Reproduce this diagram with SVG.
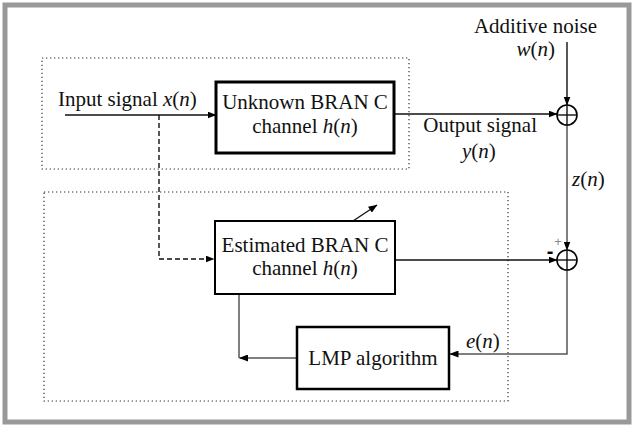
<svg xmlns="http://www.w3.org/2000/svg" width="635" height="428" viewBox="0 0 635 428">
<defs>
<marker id="ah" markerWidth="9" markerHeight="7" refX="8.5" refY="3.5" orient="auto" markerUnits="userSpaceOnUse">
<path d="M0,0 L9,3.5 L0,7 Z" fill="#000"/>
</marker>
</defs>
<style>
text{font-family:"Liberation Serif","Times New Roman",serif;font-size:21px;fill:#111}
.it{font-style:italic}
.box{fill:#fff;stroke:#000}
.dot{fill:none;stroke:#333;stroke-width:1.2;stroke-dasharray:1.3 2.7}
.ln{fill:none;stroke:#111;stroke-width:1.4}
.gl{fill:none;stroke:#555;stroke-width:1.5}
.sum{fill:#fff;stroke:#000;stroke-width:1.6}
.sg{font-family:"Liberation Sans",Arial,sans-serif}
</style>
<rect x="0" y="0" width="635" height="428" fill="#fff"/>
<rect x="5" y="5" width="624" height="417" fill="#fff" stroke="#999" stroke-width="5"/>
<g id="frames">
<rect class="dot" x="42" y="58" width="367" height="111"/>
<rect class="dot" x="44" y="192" width="464" height="209"/>
</g>
<g id="connectors">
<line class="ln" x1="65" y1="115" x2="216" y2="115" marker-end="url(#ah)"/>
<polyline class="ln" points="159,115 159,259 214,259" stroke-dasharray="5 3" marker-end="url(#ah)"/>
<line class="ln" x1="394" y1="114" x2="557" y2="114" marker-end="url(#ah)"/>
<line class="ln" x1="567" y1="42" x2="567" y2="105" marker-end="url(#ah)"/>
<line class="gl" x1="567" y1="125" x2="567" y2="250" marker-end="url(#ah)"/>
<line class="ln" x1="395" y1="260" x2="557" y2="260" marker-end="url(#ah)"/>
<polyline class="gl" points="567,270 567,354 450,354" marker-end="url(#ah)"/>
<line class="gl" x1="239" y1="294" x2="239" y2="358"/>
<line class="gl" x1="297" y1="358" x2="239.5" y2="358" marker-end="url(#ah)"/>
<line class="ln" x1="353" y1="221" x2="377" y2="205" marker-end="url(#ah)"/>
</g>
<g id="unknown">
<rect class="box" x="216" y="82" width="178" height="71" stroke-width="3"/>
<text x="305" y="109" text-anchor="middle">Unknown BRAN C</text>
<text x="305" y="133" text-anchor="middle">channel <tspan class="it">h</tspan>(<tspan class="it">n</tspan>)</text>
</g>
<g id="estimated">
<rect class="box" x="215" y="221" width="180" height="73" stroke-width="2"/>
<text x="305" y="252" text-anchor="middle">Estimated BRAN C</text>
<text x="305" y="275" text-anchor="middle">channel <tspan class="it">h</tspan>(<tspan class="it">n</tspan>)</text>
</g>
<g id="lmp">
<rect class="box" x="297" y="327" width="152" height="62" stroke-width="2.5"/>
<text x="373" y="365" text-anchor="middle">LMP algorithm</text>
</g>
<g id="sum1">
<circle class="sum" cx="567" cy="115" r="10"/>
<line class="ln" x1="557" y1="115" x2="577" y2="115"/>
<line class="ln" x1="567" y1="105" x2="567" y2="125"/>
</g>
<g id="sum2">
<circle class="sum" cx="567" cy="260" r="10"/>
<line class="ln" x1="557" y1="260" x2="577" y2="260"/>
<line class="ln" x1="567" y1="250" x2="567" y2="270"/>
<text class="sg" x="558" y="246" text-anchor="middle" style="font-size:13px;fill:#888">+</text>
<text class="sg" x="550" y="258" text-anchor="middle" style="font-size:20px;font-weight:bold;fill:#000">-</text>
</g>
<g id="labels">
<text x="58" y="106">Input signal <tspan class="it">x</tspan>(<tspan class="it">n</tspan>)</text>
<text x="597" y="33" text-anchor="end">Additive noise</text>
<text x="555" y="56" text-anchor="end"><tspan class="it">w</tspan>(<tspan class="it">n</tspan>)</text>
<text x="537" y="132" text-anchor="end">Output signal</text>
<text x="462" y="158"><tspan class="it">y</tspan>(<tspan class="it">n</tspan>)</text>
<text x="572" y="186"><tspan class="it">z</tspan>(<tspan class="it">n</tspan>)</text>
<text x="466" y="348"><tspan class="it">e</tspan>(<tspan class="it">n</tspan>)</text>
</g>
</svg>
